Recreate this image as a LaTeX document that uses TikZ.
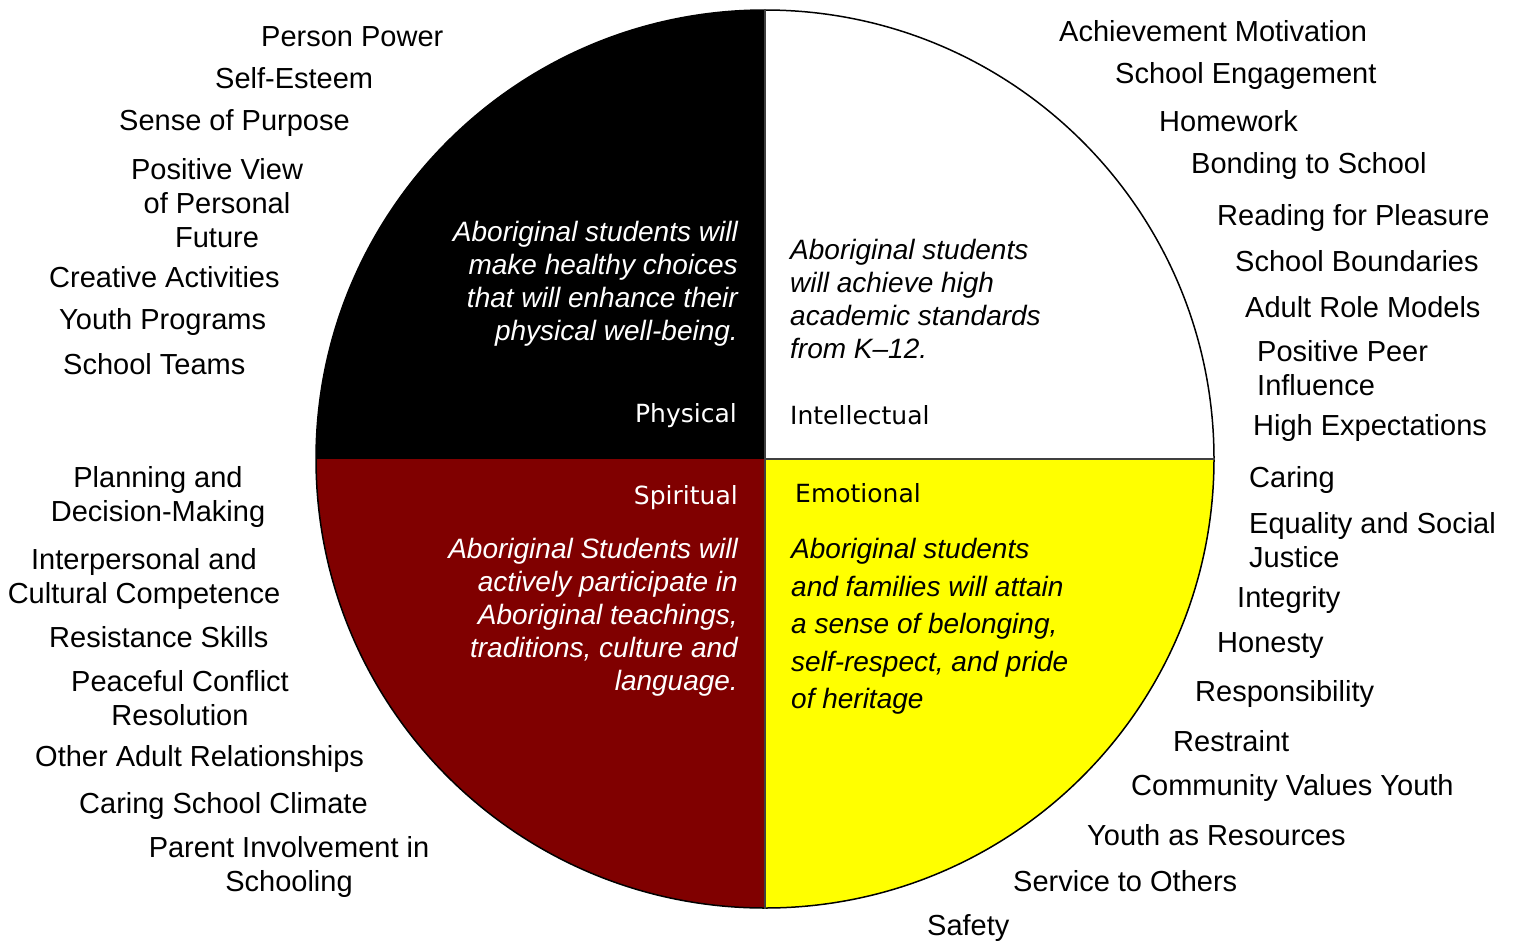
\documentclass[tikz,border=0pt]{standalone}
\usepackage{fontspec}
\setmainfont{Liberation Sans}
\newfontfamily\quadfont{DejaVu Sans}
\usepackage{tikz}
\definecolor{spiritred}{RGB}{128,0,0}
\definecolor{emoyellow}{RGB}{255,255,0}
\definecolor{rimgray}{RGB}{64,64,64}

\begin{document}
\begin{tikzpicture}[x=1pt,y=1pt,
      asset/.style={inner sep=0,font=\fontsize{29}{34}\selectfont},
      goal/.style={inner sep=0,font=\itshape\fontsize{28}{33}\selectfont},
      goalwide/.style={inner sep=0,font=\itshape\fontsize{28}{37.5}\selectfont},
      quad/.style={inner sep=0,font=\quadfont\fontsize{25}{30}\selectfont}]
         \fill[white] (0,0) rectangle (1514,-940);
         \useasboundingbox (0,0) rectangle (1514,-940);

         \coordinate (hub) at (765,-459);
         \fill[black] (hub) -- ++(0,449) arc[start angle=90,end angle=180,radius=449] -- cycle;
         \fill[spiritred] (hub) -- ++(-449,0) arc[start angle=180,end angle=270,radius=449] -- cycle;
         \fill[emoyellow] (hub) -- ++(0,-449) arc[start angle=270,end angle=360,radius=449] -- cycle;
         \node[circle,draw=black,line width=1.5,minimum size=898,inner sep=0] (rim) at (hub) {};
         \draw[rimgray,line width=2] (rim.north) -- (rim.south);
         \draw[rimgray,line width=2] (hub) -- (rim.east);

         \node[goal,text=white,anchor=north east,align=right] (physgoal) at (738,-221) {Aboriginal students will\\make healthy choices\\that will enhance their\\physical well-being.};
         \node[quad,text=white,anchor=north east] (phys) at (737,-403) {Physical};
         \node[goal,anchor=north west,align=left] (intelgoal) at (790,-239) {Aboriginal students\\will achieve high\\academic standards\\from K–12.};
         \node[quad,anchor=north west] (intel) at (790,-405) {Intellectual};
         \node[quad,text=white,anchor=north east] (spirit) at (738,-485) {Spiritual};
         \node[goal,text=white,anchor=north east,align=right] (spiritgoal) at (738,-538) {Aboriginal Students will\\actively participate in\\Aboriginal teachings,\\traditions, culture and\\language.};
         \node[quad,anchor=north west] (emo) at (795,-483) {Emotional};
         \node[goalwide,anchor=north west,align=left] (emogoal) at (791,-538) {Aboriginal students\\and families will attain\\a sense of belonging,\\self-respect, and pride\\of heritage};

         \node[asset,anchor=north west] (power) at (261,-26) {Person Power};
         \node[asset,anchor=north west] (esteem) at (215,-67) {Self-Esteem};
         \node[asset,anchor=north west] (purpose) at (119,-109) {Sense of Purpose};
         \node[asset,anchor=north,align=center] (future) at (217,-158) {Positive View\\of Personal\\Future};
         \node[asset,anchor=north west] (creative) at (49,-266) {Creative Activities};
         \node[asset,anchor=north west] (programs) at (59,-308) {Youth Programs};
         \node[asset,anchor=north west] (teams) at (63,-353) {School Teams};
         \node[asset,anchor=north,align=center] (planning) at (158,-466) {Planning and\\Decision-Making};
         \node[asset,anchor=north,align=center] (competence) at (144,-548) {Interpersonal and\\Cultural Competence};
         \node[asset,anchor=north west] (resist) at (49,-626) {Resistance Skills};
         \node[asset,anchor=north,align=center] (conflict) at (180,-670) {Peaceful Conflict\\Resolution};
         \node[asset,anchor=north west] (adults) at (35,-745) {Other Adult Relationships};
         \node[asset,anchor=north west] (climate) at (79,-792) {Caring School Climate};
         \node[asset,anchor=north,align=center] (parents) at (289,-836) {Parent Involvement in\\Schooling};

         \node[asset,anchor=north west] (motivation) at (1059,-20) {Achievement Motivation};
         \node[asset,anchor=north west] (engage) at (1115,-62) {School Engagement};
         \node[asset,anchor=north west] (homework) at (1159,-110) {Homework};
         \node[asset,anchor=north west] (bonding) at (1191,-152) {Bonding to School};
         \node[asset,anchor=north west] (reading) at (1217,-204) {Reading for Pleasure};
         \node[asset,anchor=north west] (bounds) at (1235,-250) {School Boundaries};
         \node[asset,anchor=north west] (models) at (1245,-296) {Adult Role Models};
         \node[asset,anchor=north west,align=left] (peers) at (1257,-340) {Positive Peer\\Influence};
         \node[asset,anchor=north west] (expect) at (1253,-414) {High Expectations};
         \node[asset,anchor=north west] (caring) at (1249,-466) {Caring};
         \node[asset,anchor=north west,align=left] (justice) at (1249,-512) {Equality and Social\\Justice};
         \node[asset,anchor=north west] (integrity) at (1237,-586) {Integrity};
         \node[asset,anchor=north west] (honesty) at (1217,-632) {Honesty};
         \node[asset,anchor=north west] (respons) at (1195,-680) {Responsibility};
         \node[asset,anchor=north west] (restraint) at (1173,-730) {Restraint};
         \node[asset,anchor=north west] (values) at (1131,-774) {Community Values Youth};
         \node[asset,anchor=north west] (resources) at (1087,-824) {Youth as Resources};
         \node[asset,anchor=north west] (service) at (1013,-870) {Service to Others};
         \node[asset,anchor=north west] (safety) at (927,-914) {Safety};
\end{tikzpicture}
\end{document}
